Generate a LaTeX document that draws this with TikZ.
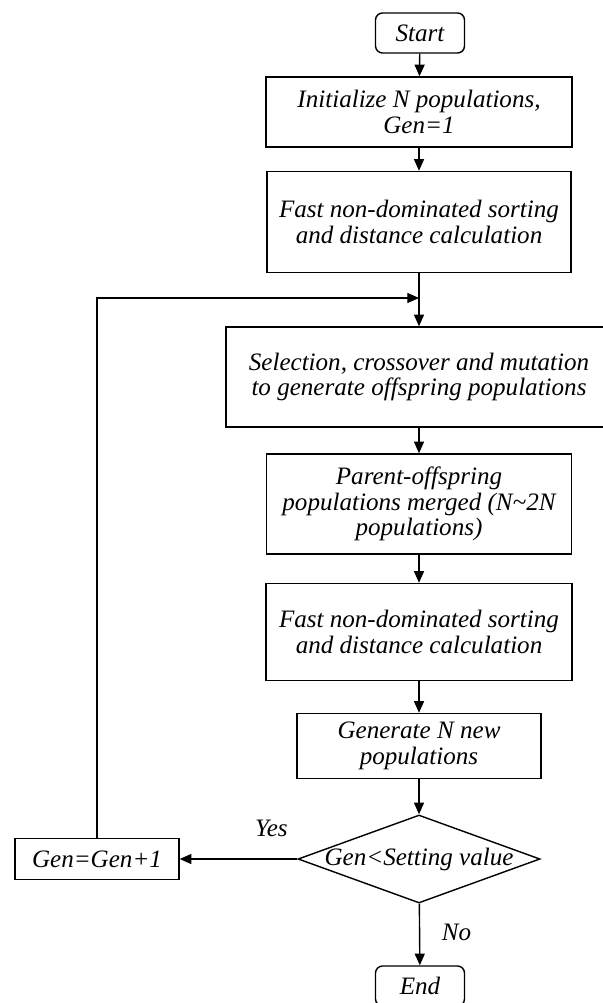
\documentclass[tikz,border=0pt]{standalone}
\usepackage{fontspec}
\setmainfont{Liberation Serif}
\usetikzlibrary{shapes.geometric,arrows.meta}

\tikzset{
  box/.style={draw, rectangle, align=center, inner sep=1pt},
  term/.style={draw, rectangle, rounded corners=3pt, align=center,
    minimum width=1.335cm, minimum height=0.6cm},
  choice/.style={draw, diamond, aspect=2.75, inner sep=0pt,
    minimum width=3.63cm, minimum height=1.32cm},
}

\begin{document}
\begin{tikzpicture}[x=0.015cm, y=-0.015cm, line width=0.6pt,
    font=\itshape\fontsize{10.7}{11}\selectfont,
    >={Triangle[length=5pt,width=4.3pt]}]
      \useasboundingbox (0,0) rectangle (603,1003);
      \draw
        (420,33) node[term] (start){Start}
        (419,112) node[box, minimum width=4.59cm, minimum height=1.05cm] (init){Initialize N populations,\\Gen=1}
        (419,222) node[box, minimum width=4.56cm, minimum height=1.515cm] (fast1){Fast non-dominated sorting\\and distance calculation}
        (419,377) node[box, minimum width=5.79cm, minimum height=1.5cm] (sel){Selection, crossover and mutation\\to generate offspring populations}
        (419,504) node[box, minimum width=4.575cm, minimum height=1.5cm] (merge){Parent-offspring\\populations merged (N\textasciitilde 2N\\populations)}
        (419,632) node[box, minimum width=4.59cm, minimum height=1.455cm] (fast2){Fast non-dominated sorting\\and distance calculation}
        (419,746) node[box, minimum width=3.66cm, minimum height=0.975cm] (newpop){Generate N new\\populations}
        (419,859) node[choice] (check){\makebox[0pt]{Gen<Setting value}}
        (97,859) node[box, minimum width=2.46cm, minimum height=0.615cm] (incr){Gen=Gen+1}
        (420,986) node[term] (end){End};
      \coordinate (join) at (419,298);
      \begin{scope}[->]
        \draw (start) to (init);
        \draw (init) to (fast1);
        \draw (fast1) to (sel);
        \draw (sel) to (merge);
        \draw (merge) to (fast2);
        \draw (fast2) to (newpop);
        \draw (newpop) to (check);
        \draw (check) to node[pos=.46, xshift=0.555cm]{No} (end);
        \draw (check) to node[pos=.22, yshift=0.465cm]{Yes} (incr);
        \draw (incr) |- (join);
      \end{scope}
    \end{tikzpicture}
\end{document}
